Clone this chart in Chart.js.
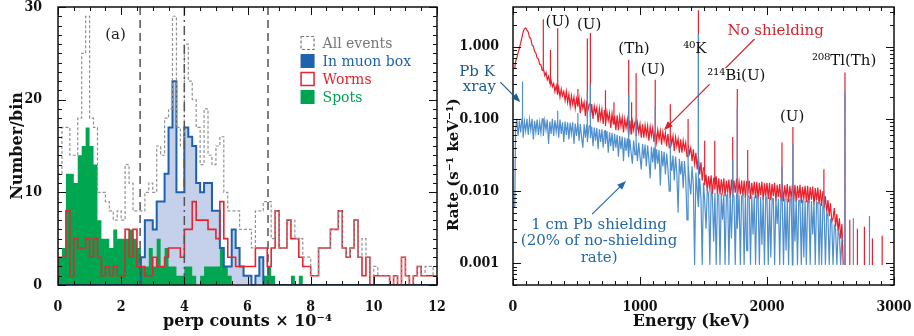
<!DOCTYPE html>
<html>
<head>
<meta charset="utf-8">
<script src="https://cdn.jsdelivr.net/npm/chart.js@4.4.1/dist/chart.umd.min.js"></script>
<style>
  body { margin: 0; background: #fff; width: 914px; height: 336px; overflow: hidden; position: relative; }
  canvas { position: absolute; top: 0; }
  #histo { left: 0; }
  #spectrum { left: 440px; }
</style>
</head>
<body>
<canvas id="histo" width="457" height="336"></canvas>
<canvas id="spectrum" width="474" height="336"></canvas>
<script>
// ---------- left panel: perp counts histogram (bins of 0.125 x 10^-4) ----------
const binWidth = 0.125;
const allEvents = [12,17,17,14,14,18,25,29,18,17,10,10,9,8,7,8,7,13,11,8,8,
  8,10,11,10,15,14,18,19,29,17,15,26,22,20,17,13,19,14,13,15,16,
  10,8,8,8,6,6,6,4,8,8,9,9,5,8,4,4,7,7,5,5,3,3,1,1,4,4,4,6,6,8,4,3,4,7,3,5,3,1,2,1,1,1,0,1,0,3,1,0,1,2,1,2,2,1];
const inMuonBox = [0,0,0,0,0,0,0,0,0,0,0,0,0,0,0,0,0,0,0,0,0,
  3,7,7,6,9,9,12,17,22,10,10,17,16,15,11,10,11,11,8,8,4,2,2,6,4,2,1,1,0,1,3,
  0,0,0,0,0,0,0,0,0,0,0,0,0,0,0,0,0,0,0,0,0,0,0,0,0,0,0,0,0,0,0,0,0,0,0,0,0,0,0,0,0,0,0,0];
const worms = [3,3,8,1,5,4,4,5,3,5,3,1,2,1,2,1,1,
  6,3,6,2,2,1,1,3,2,2,3,
  4,4,4,3,6,6,9,7,7,7,6,6,
  5,9,5,3,3,2,2,2,2,2,4,4,4,2,4,8,4,4,7,5,5,3,2,2,1,1,4,4,4,6,6,8,4,3,4,7,3,1,3,0,1,1,1,1,0,1,0,3,1,0,1,2,1,1,1,1];
const spots = [3,4,12,12,11,14,15,17,15,13,7,5,5,4,6,5,5,5,6,5,4,
  2,2,4,2,5,2,4,2,2,1,1,2,2,1,0,1,2,2,2,2,4,2,1,
  0,0,0,0,0,0,0,0,1,2,1,0,0,0,0,1,0,1,
  0,0,0,0,0,0,0,0,0,0,0,0,0,0,0,0,0,0,0,0,0,0,0,0,0,0,0,0,0,0,0,0,0,0];
const cutLines = [2.6, 4.0, 6.65];
const perpTicks = [0, 2, 4, 6, 8, 10, 12];
const countTicks = [0, 10, 20, 30];

// ---------- right panel: energy spectra on a 10 keV grid ----------
const energyKeV = [14].concat(Array.from({length: 259}, (_, i) => 20 + 10 * i));
const noShielding = [0.5,
  0.62,0.7,0.82,0.95,1.12,1.35,1.6,1.78,1.82,1.7,
  1.6,1.35,1.3,1.05,1.02,0.86,0.82,0.7,0.68,0.57,
  0.56,0.47,0.5,0.4,0.44,0.35,0.39,0.31,0.34,0.28,
  0.31,0.24,0.29,0.22,0.27,0.2,0.26,0.21,0.24,0.18,
  0.24,0.17,0.22,0.15,0.21,0.16,0.2,0.14,0.19,0.15,
  0.19,0.12,0.18,0.14,0.17,0.11,0.175,0.12,0.16,0.105,
  0.16,0.1,0.15,0.12,0.145,0.09,0.14,0.1,0.135,0.085,
  0.13,0.08,0.125,0.095,0.12,0.075,0.118,0.085,0.11,0.07,
  0.112,0.07,0.108,0.08,0.105,0.065,0.1,0.075,0.098,0.06,
  0.095,0.062,0.092,0.07,0.09,0.058,0.088,0.065,0.085,0.055,
  0.084,0.055,0.082,0.06,0.08,0.05,0.078,0.058,0.075,0.048,
  0.072,0.048,0.07,0.052,0.068,0.044,0.066,0.05,0.064,0.042,
  0.062,0.04,0.06,0.045,0.058,0.036,0.056,0.042,0.053,0.034,
  0.052,0.034,0.05,0.038,0.047,0.03,0.044,0.033,0.04,0.026,
  0.038,0.024,0.034,0.02,0.03,0.017,0.025,0.014,0.021,0.012,
  0.017,0.01,0.016,0.011,0.0165,0.009,0.015,0.0105,0.016,0.009,
  0.015,0.009,0.0145,0.01,0.015,0.0085,0.014,0.0095,0.0145,0.008,
  0.0145,0.0085,0.014,0.0095,0.0145,0.008,0.0135,0.009,0.014,0.0085,
  0.014,0.008,0.0135,0.009,0.014,0.0078,0.013,0.0088,0.0135,0.008,
  0.0135,0.0078,0.013,0.0088,0.0135,0.0075,0.0128,0.0085,0.013,0.0078,
  0.013,0.0075,0.0125,0.0085,0.013,0.0072,0.0122,0.0082,0.0125,0.0075,
  0.0125,0.0072,0.012,0.0082,0.0125,0.007,0.0118,0.008,0.012,0.0072,
  0.0122,0.007,0.0118,0.008,0.0122,0.0068,0.0115,0.0078,0.0118,0.007,
  0.0118,0.0068,0.0114,0.0076,0.0116,0.0065,0.011,0.0074,0.0112,0.0066,
  0.0105,0.0062,0.0098,0.0058,0.0085,0.005,0.0075,0.0045,0.0068,0.0038,
  0.0042,0.0058,0.0032,0.0048,0.0028,0.0042,0.0022,0.0035,0.00095];
const pbShielding = [0.006,
  0.07,0.1,0.058,0.095,0.065,0.1,0.055,0.092,0.068,0.1,
  0.06,0.098,0.07,0.1,0.052,0.094,0.066,0.098,0.06,0.09,
  0.064,0.1,0.058,0.095,0.07,0.098,0.045,0.092,0.062,0.1,
  0.058,0.096,0.066,0.092,0.055,0.098,0.062,0.09,0.048,0.092,
  0.06,0.09,0.052,0.088,0.062,0.09,0.045,0.086,0.058,0.088,
  0.05,0.085,0.056,0.04,0.084,0.055,0.082,0.048,0.08,0.054,
  0.078,0.042,0.076,0.05,0.075,0.038,0.072,0.048,0.072,0.04,
  0.068,0.045,0.068,0.034,0.065,0.042,0.064,0.036,0.062,0.04,
  0.06,0.03,0.058,0.038,0.057,0.026,0.055,0.036,0.054,0.03,
  0.052,0.034,0.024,0.05,0.032,0.048,0.026,0.047,0.03,0.02,
  0.045,0.028,0.044,0.022,0.043,0.027,0.015,0.041,0.025,0.04,
  0.02,0.038,0.024,0.037,0.012,0.036,0.022,0.035,0.017,0.033,
  0.02,0.01,0.032,0.019,0.031,0.014,0.03,0.018,0.005,0.028,
  0.017,0.026,0.011,0.026,0.015,0.004,0.024,0.013,0.009,0.022,
  0.012,0.00095,0.018,0.01,0.006,0.015,0.008,0.00095,0.013,0.007,
  0.003,0.0105,0.009,0.00095,0.01,0.0085,0.002,0.0095,0.00095,0.009,
  0.0088,0.00095,0.0095,0.004,0.009,0.00095,0.0085,0.0092,0.00095,0.0088,
  0.0022,0.009,0.0085,0.00095,0.009,0.003,0.0088,0.00095,0.0085,0.009,
  0.00095,0.0085,0.0015,0.0088,0.0082,0.00095,0.0086,0.0025,0.0084,0.00095,
  0.0085,0.008,0.00095,0.0083,0.0018,0.0082,0.00095,0.0084,0.0079,0.00095,
  0.0082,0.0012,0.008,0.0078,0.00095,0.0081,0.0035,0.0079,0.00095,0.008,
  0.0077,0.00095,0.0079,0.0015,0.0078,0.00095,0.0076,0.0078,0.00095,0.0077,
  0.002,0.0076,0.00095,0.0075,0.0074,0.00095,0.0076,0.0012,0.0073,0.00095,
  0.0074,0.0072,0.00095,0.0073,0.0025,0.007,0.00095,0.0071,0.0068,0.00095,
  0.0068,0.00095,0.0062,0.0055,0.00095,0.005,0.0045,0.00095,0.004,0.0038,
  0.00095,0.0033,0.003,0.00095,0.0028,0.0025,0.00095,0.0022,0.002];
// gamma lines: energy, height in each spectrum (null = no visible line)
const lineEnergy = [75,238,295,352,511,583,609,727,795,911,934,969,1120,1238,1378,1460,1509,1588,1730,1764,1847,2118,2204,2448,2614,2652,2680,2712,2767,2807,2830,2907];
const lineRed = [null,2.4,0.9,1.8,0.26,1.3,1.55,0.25,0.17,0.66,0.17,0.43,0.35,0.16,0.1,3.2,0.05,0.05,0.056,0.26,0.037,0.047,0.077,0.02,0.44,0.004,null,0.003,0.0032,null,0.0022,0.0024];
const lineBlue = [0.33,0.1,null,0.13,0.12,0.24,0.3,0.07,null,0.22,null,0.1,0.15,0.05,0.04,1.5,null,null,0.028,0.145,0.015,0.022,0.045,0.01,0.24,null,0.0042,null,null,0.0045,null,null];
const rateFloor = 0.00095;
const energyTicks = [0, 1000, 2000, 3000];
const rateTicks = [0.001, 0.01, 0.1, 1];

const serif = "'DejaVu Serif', serif";
const tickFamily = "'DejaVu Serif Condensed', 'DejaVu Serif', serif";

function histPoints(values) {
  const pts = [{x: 0, y: 0}];
  values.forEach((v, k) => pts.push({x: k * binWidth, y: v}));
  const end = values.length * binWidth;
  pts.push({x: end, y: values[values.length - 1]}, {x: end, y: 0});
  return pts;
}

function spectrumPoints(cont, lines) {
  const pts = [];
  let li = 0;
  energyKeV.forEach((e, i) => {
    while (li < lineEnergy.length && lineEnergy[li] < e) {
      const h = lines[li];
      if (h) {
        const base = cont[Math.max(i - 1, 0)];
        pts.push({x: lineEnergy[li], y: base}, {x: lineEnergy[li], y: h}, {x: lineEnergy[li], y: base});
      }
      li++;
    }
    pts.push({x: e, y: cont[i]});
  });
  for (; li < lineEnergy.length; li++) {
    const h = lines[li];
    if (h) pts.push({x: lineEnergy[li], y: null}, {x: lineEnergy[li], y: rateFloor}, {x: lineEnergy[li], y: h});
  }
  return pts;
}

function drawFrame(chart, xMinor, xMajor, yMinor, yMajor) {
  const {ctx, chartArea: a, scales: {x, y}} = chart;
  ctx.save();
  ctx.strokeStyle = '#111';
  ctx.lineWidth = 1;
  ctx.beginPath();
  const xt = (vals, len) => vals.forEach(v => {
    const p = Math.round(x.getPixelForValue(v)) + 0.5;
    ctx.moveTo(p, a.bottom); ctx.lineTo(p, a.bottom - len);
    ctx.moveTo(p, a.top); ctx.lineTo(p, a.top + len);
  });
  const yt = (vals, len) => vals.forEach(v => {
    const p = Math.round(y.getPixelForValue(v)) + 0.5;
    ctx.moveTo(a.left, p); ctx.lineTo(a.left + len, p);
    ctx.moveTo(a.right, p); ctx.lineTo(a.right - len, p);
  });
  xt(xMinor, 4); xt(xMajor, 8); yt(yMinor, 4); yt(yMajor, 8);
  ctx.stroke();
  ctx.lineWidth = 1.5;
  ctx.strokeRect(a.left, a.top, a.right - a.left, a.bottom - a.top);
  ctx.restore();
}

function text(ctx, str, x, y, size, color, align) {
  ctx.font = size + 'px ' + serif;
  ctx.fillStyle = color;
  ctx.textAlign = align || 'center';
  ctx.textBaseline = 'middle';
  ctx.fillText(str, x, y);
}

function arrow(ctx, x1, y1, x2, y2, color) {
  const ang = Math.atan2(y2 - y1, x2 - x1);
  ctx.save();
  ctx.strokeStyle = color; ctx.fillStyle = color; ctx.lineWidth = 1.2;
  ctx.beginPath(); ctx.moveTo(x1, y1); ctx.lineTo(x2 - 6 * Math.cos(ang), y2 - 6 * Math.sin(ang)); ctx.stroke();
  ctx.beginPath();
  ctx.moveTo(x2, y2);
  ctx.lineTo(x2 - 9 * Math.cos(ang) + 3.5 * Math.sin(ang), y2 - 9 * Math.sin(ang) - 3.5 * Math.cos(ang));
  ctx.lineTo(x2 - 9 * Math.cos(ang) - 3.5 * Math.sin(ang), y2 - 9 * Math.sin(ang) + 3.5 * Math.cos(ang));
  ctx.closePath(); ctx.fill();
  ctx.restore();
}

// ---------- left chart ----------
const histExtras = {
  id: 'histExtras',
  afterDatasetsDraw(chart) {
    const {ctx, chartArea: a, scales: {x, y}} = chart;
    ctx.save();
    ctx.strokeStyle = '#555';
    ctx.lineWidth = 1.5;
    cutLines.forEach((c, i) => {
      const px = x.getPixelForValue(c);
      ctx.setLineDash(i === 1 ? [9, 4, 2, 4] : [8, 5]);
      ctx.beginPath(); ctx.moveTo(px, a.top); ctx.lineTo(px, a.bottom); ctx.stroke();
    });
    ctx.restore();

    const xMinor = [], yMinor = [];
    for (let v = 0; v <= 12; v += 0.5) xMinor.push(v);
    for (let v = 0; v <= 30; v += 1) yMinor.push(v);
    drawFrame(chart, xMinor, perpTicks, yMinor, countTicks);

    text(ctx, '(a)', x.getPixelForValue(1.82), y.getPixelForValue(27), 15, '#222');

    const legend = [
      {label: 'All events', color: '#777', kind: 'dash'},
      {label: 'In muon box', color: '#1f63ae', kind: 'fill'},
      {label: 'Worms', color: '#e3232d', kind: 'box'},
      {label: 'Spots', color: '#00a34f', kind: 'fill'}
    ];
    const lx = x.getPixelForValue(7.68);
    legend.forEach((item, i) => {
      const cy = a.top + 36 + i * 18;
      ctx.save();
      if (item.kind === 'fill') {
        ctx.fillStyle = item.color; ctx.fillRect(lx, cy - 7, 14, 14);
      } else {
        ctx.strokeStyle = item.color; ctx.lineWidth = item.kind === 'box' ? 1.5 : 1.2;
        if (item.kind === 'dash') ctx.setLineDash([3, 2]);
        ctx.strokeRect(lx + 0.5, cy - 6.5, 13, 13);
      }
      ctx.restore();
      text(ctx, item.label, lx + 22, cy + 1, 14, item.color, 'left');
    });
  }
};

new Chart(document.getElementById('histo'), {
  type: 'line',
  data: {
    datasets: [
      {label: 'All events', data: histPoints(allEvents), stepped: true, borderColor: '#929292', borderWidth: 1.2, borderDash: [3, 2], pointRadius: 0, fill: false, order: 0},
      {label: 'Worms', data: histPoints(worms), stepped: true, borderColor: '#e8242e', borderWidth: 1.6, pointRadius: 0, fill: false, order: 1},
      {label: 'In muon box', data: histPoints(inMuonBox), stepped: true, borderColor: '#1c62b0', borderWidth: 2, pointRadius: 0, fill: false, order: 2},
      {label: 'Spots', data: histPoints(spots), stepped: true, borderWidth: 0, borderColor: 'rgba(0,0,0,0)', backgroundColor: '#00a650', pointRadius: 0, fill: 'origin', order: 3},
      {label: 'muon fill', data: histPoints(inMuonBox), stepped: true, borderWidth: 0, borderColor: 'rgba(0,0,0,0)', backgroundColor: '#c5d1ea', pointRadius: 0, fill: 'origin', order: 4}
    ]
  },
  options: {
    responsive: false,
    animation: false,
    devicePixelRatio: 1,
    layout: {padding: {left: 0, top: 7, right: 20, bottom: 0}},
    plugins: {legend: {display: false}, tooltip: {enabled: false}},
    scales: {
      x: {
        type: 'linear', min: 0, max: 12,
        grid: {display: false}, border: {display: false},
        afterBuildTicks: s => { s.ticks = perpTicks.map(v => ({value: v})); },
        afterFit: s => { s.height = 51; s.paddingLeft = 0; s.paddingRight = 0; },
        ticks: {color: '#111', padding: 6, font: {family: tickFamily, size: 14, weight: 'bold'}, callback: v => String(v)},
        title: {display: true, text: 'perp counts × 10⁻⁴', color: '#111', padding: {top: 0, bottom: 5}, font: {family: serif, size: 16, weight: 'bold'}}
      },
      y: {
        type: 'linear', min: 0, max: 30,
        grid: {display: false}, border: {display: false},
        afterBuildTicks: s => { s.ticks = countTicks.map(v => ({value: v})); },
        afterFit: s => { s.width = 58; s.paddingTop = 0; s.paddingBottom = 0; },
        ticks: {color: '#111', padding: 8, font: {family: tickFamily, size: 14, weight: 'bold'}, callback: v => String(v)},
        title: {display: true, text: 'Number/bin', color: '#111', padding: {top: 8, bottom: 0}, font: {family: serif, size: 16, weight: 'bold'}}
      }
    }
  },
  plugins: [histExtras]
});

// ---------- right chart ----------
const specExtras = {
  id: 'specExtras',
  afterDatasetsDraw(chart) {
    const {ctx, scales: {x, y}} = chart;
    const xMinor = [], yMinor = [];
    for (let v = 0; v <= 3000; v += 100) xMinor.push(v);
    for (let p = -4; p <= 0; p++) for (let k = 1; k <= 9; k++) {
      const v = k * Math.pow(10, p);
      if (v >= 0.0005 && v <= 3.55) yMinor.push(v);
    }
    drawFrame(chart, xMinor, energyTicks, yMinor, rateTicks);

    const P = (e, r) => [x.getPixelForValue(e), y.getPixelForValue(r)];

    // red arrow from "No shielding", passing behind the 214Bi label
    const [rx1, ry1] = P(1902, 1.28), [rx2, ry2] = P(1189, 0.07);
    arrow(ctx, rx1, ry1, rx2, ry2, '#d8232d');
    arrow(ctx, ...P(-100, 0.324), ...P(57, 0.171), '#1b5c93');
    arrow(ctx, ...P(623, 0.0048), ...P(890, 0.0138), '#2568a8');

    const notes = [
      ['(U)', 352, 2.16, '#111'], ['(U)', 599, 2.0, '#111'], ['(Th)', 953, 0.93, '#111'],
      ['(U)', 1102, 0.48, '#111'], ['⁴⁰K', 1432, 0.93, '#111'], ['No shielding', 2068, 1.65, '#d8232d'],
      ['²⁰⁸Tl(Th)', 2608, 0.63, '#111'], ['(U)', 2198, 0.106, '#111'],
      ['Pb K', -283, 0.44, '#1b5c93'], ['xray', -265, 0.272, '#1b5c93'],
      ['1 cm Pb shielding', 678, 0.00339, '#2568a8'], ['(20% of no-shielding', 678, 0.002, '#2568a8'],
      ['rate)', 678, 0.00118, '#2568a8']
    ];
    notes.forEach(([s, e, r, c]) => { const [px, py] = P(e, r); text(ctx, s, px, py, 15, c); });

    const [bx, by] = P(1758, 0.39);
    ctx.font = '15px ' + serif;
    const w = ctx.measureText('²¹⁴Bi(U)').width;
    ctx.fillStyle = '#fff';
    ctx.fillRect(bx - w / 2 - 2, by - 8, w + 4, 16);
    text(ctx, '²¹⁴Bi(U)', bx, by, 15, '#111');
  }
};

new Chart(document.getElementById('spectrum'), {
  type: 'line',
  data: {
    datasets: [
      {label: '1 cm Pb shielding', data: spectrumPoints(pbShielding, lineBlue), borderColor: '#4e8fcf', borderWidth: 1.2, pointRadius: 0, fill: false, spanGaps: false, order: 0},
      {label: 'No shielding', data: spectrumPoints(noShielding, lineRed), borderColor: '#ea1f2b', borderWidth: 1.2, pointRadius: 0, fill: false, spanGaps: false, order: 1}
    ]
  },
  options: {
    responsive: false,
    animation: false,
    devicePixelRatio: 1,
    layout: {padding: {left: 0, top: 7, right: 20, bottom: 0}},
    plugins: {legend: {display: false}, tooltip: {enabled: false}},
    scales: {
      x: {
        type: 'linear', min: 0, max: 3000,
        grid: {display: false}, border: {display: false},
        afterBuildTicks: s => { s.ticks = energyTicks.map(v => ({value: v})); },
        afterFit: s => { s.height = 51; s.paddingLeft = 0; s.paddingRight = 0; },
        ticks: {color: '#111', padding: 6, font: {family: tickFamily, size: 14, weight: 'bold'}, callback: v => String(v)},
        // trailing en spaces pull the centred title slightly left, as in the original
        title: {display: true, text: 'Energy (keV)\u2002\u2002\u2002', color: '#111', padding: {top: 0, bottom: 5}, font: {family: serif, size: 16, weight: 'bold'}}
      },
      y: {
        type: 'logarithmic', min: 0.0005, max: 3.55,
        grid: {display: false}, border: {display: false},
        afterBuildTicks: s => { s.ticks = rateTicks.map(v => ({value: v})); },
        afterFit: s => { s.width = 73; s.paddingTop = 0; s.paddingBottom = 0; },
        ticks: {color: '#111', padding: 6, font: {family: tickFamily, size: 14, weight: 'bold'}, callback: v => Number(v).toFixed(3)},
        title: {display: true, text: 'Rate (s⁻¹ keV⁻¹)\u2002\u2002\u2002\u2002\u2002', color: '#111', padding: {top: 5, bottom: 0}, font: {family: serif, size: 15, weight: 'bold'}}
      }
    }
  },
  plugins: [specExtras]
});
</script>
</body>
</html>
